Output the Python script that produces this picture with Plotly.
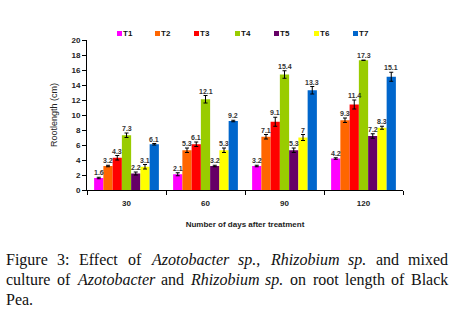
import plotly.graph_objects as go

categories = ["30", "60", "90", "120"]
series_names = ["T1", "T2", "T3", "T4", "T5", "T6", "T7"]
T1 = [1.6, 2.1, 3.2, 4.2]
T2 = [3.2, 5.3, 7.1, 9.3]
T3 = [4.3, 6.1, 9.1, 11.4]
T4 = [7.3, 12.1, 15.4, 17.3]
T5 = [2.2, 3.2, 5.3, 7.2]
T6 = [3.1, 5.3, 7.0, 8.3]
T7 = [6.1, 9.2, 13.3, 15.1]
E1 = [0.1, 0.2, 0.1, 0.1]
E2 = [0.1, 0.3, 0.3, 0.3]
E3 = [0.3, 0.3, 0.6, 0.6]
E4 = [0.3, 0.5, 0.5, 0.0]
E5 = [0.2, 0.1, 0.3, 0.3]
E6 = [0.3, 0.3, 0.4, 0.2]
E7 = [0.1, 0.1, 0.5, 0.6]
labels = [
    ["1.6", "2.1", "3.2", "4.2"],
    ["3.2", "5.3", "7.1", "9.3"],
    ["4.3", "6.1", "9.1", "11.4"],
    ["7.3", "12.1", "15.4", "17.3"],
    ["2.2", "3.2", "5.3", "7.2"],
    ["3.1", "5.3", "7", "8.3"],
    ["6.1", "9.2", "13.3", "15.1"],
]
values = [T1, T2, T3, T4, T5, T6, T7]
errors = [E1, E2, E3, E4, E5, E6, E7]
colors = ["#FF00FF", "#FF6600", "#FF0000", "#99CC00", "#660066", "#FFFF00", "#0066CC"]

W, H = 456, 319
ML, MR, MT, MB = 87, 53, 40, 129
PW = W - ML - MR
PH = H - MT - MB
BARGAP = 0.18


def px(x):
    return (x - ML) / PW


def py(y):
    return (H - MB - y) / PH


fig = go.Figure()
for name, v, e, c in zip(series_names, values, errors, colors):
    fig.add_trace(go.Bar(
        x=categories, y=v, name=name, marker=dict(color=c, line=dict(width=0)),
        error_y=dict(type="data", array=e, color="black", thickness=1, width=2),
        showlegend=False,
    ))

cat_w = PW / len(categories)
bar_w = cat_w * (1 - BARGAP) / len(series_names)
anns = []
shapes = []
for i, (lab, v, e) in enumerate(zip(labels, values, errors)):
    for j in range(len(categories)):
        anns.append(dict(
            x=j, y=v[j] + e[j], xref="x", yref="y", text=lab[j], showarrow=False,
            xanchor="center", yanchor="bottom", xshift=(i - 3) * bar_w, yshift=0,
            borderpad=0, font=dict(family="Liberation Sans", size=7, color="#333", weight="bold"),
        ))

# manual legend (small square swatches)
legend_x = [117, 155, 194, 235, 274, 314, 353]
for name, c, lx in zip(series_names, colors, legend_x):
    shapes.append(dict(type="rect", xref="paper", yref="paper", x0=px(lx), x1=px(lx + 5),
                       y0=py(36), y1=py(31), fillcolor=c, line=dict(width=0)))
    anns.append(dict(x=px(lx + 6), y=py(33.5), xref="paper", yref="paper", text=name,
                     showarrow=False, xanchor="left", yanchor="middle", borderpad=0, borderwidth=0,
                     font=dict(family="Liberation Sans", size=8, weight="bold", color="#111")))

# caption, justified using Times metrics (Liberation Serif is metric compatible)
ROMAN = {' ': 250, 'F': 556, 'i': 278, 'g': 500, 'u': 500, 'r': 333, 'e': 444, '3': 500, ':': 278,
         'E': 611, 'f': 333, 'c': 444, 't': 278, 'o': 500, 'a': 444, 'n': 500, 'd': 500, 'm': 778,
         'x': 500, 'l': 278, 'h': 500, 'B': 667, 'k': 500, 'P': 556, '.': 250, ',': 250, 's': 389,
         'p': 500, 'b': 500, 'z': 444, 'A': 722, 'R': 667}
ITALIC = {'A': 611, 'z': 389, 'o': 500, 't': 278, 'b': 500, 'a': 500, 'c': 444, 'e': 444, 'r': 389,
          ' ': 250, 's': 389, 'p': 500, '.': 250, 'R': 611, 'h': 500, 'i': 278, 'u': 500, 'm': 722}
CAP_SIZE = 16


def word_width(parts):
    w = 0
    for txt, it in parts:
        table = ITALIC if it else ROMAN
        w += sum(table.get(ch, 500) for ch in txt)
    return w * CAP_SIZE / 1000.0


def word_html(parts):
    return "".join(f"<i>{t}</i>" if it else t for t, it in parts)


caption_lines = [
    (259.5, True, [[("Figure", 0)], [("3:", 0)], [("Effect", 0)], [("of", 0)], [("Azotobacter", 1)],
                   [("sp.", 1), (",", 0)], [("Rhizobium", 1)], [("sp.", 1)], [("and", 0)], [("mixed", 0)]]),
    (279.5, True, [[("culture", 0)], [("of", 0)], [("Azotobacter", 1)], [("and", 0)], [("Rhizobium", 1)],
                   [("sp.", 1)], [("on", 0)], [("root", 0)], [("length", 0)], [("of", 0)], [("Black", 0)]]),
    (299, False, [[("Pea.", 0)]]),
]
LEFT, RIGHT = 6, 448.5
cap_font = dict(family="Liberation Serif", size=CAP_SIZE, color="#111")
for yy, justify, words in caption_lines:
    widths = [word_width(w) for w in words]
    if justify and len(words) > 1:
        gap = (RIGHT - LEFT - sum(widths)) / (len(words) - 1)
    else:
        gap = 0.25 * CAP_SIZE
    x = LEFT
    for w, wd in zip(words, widths):
        anns.append(dict(x=px(x), y=py(yy), xref="paper", yref="paper", text=word_html(w),
                         showarrow=False, xanchor="left", yanchor="middle", borderpad=0,
                         borderwidth=0, font=cap_font))
        x += wd + gap

fig.update_layout(
    annotations=anns, shapes=shapes,
    barmode="group", bargap=BARGAP, bargroupgap=0,
    width=W, height=H, margin=dict(l=ML, r=MR, t=MT, b=MB, pad=0, autoexpand=False),
    paper_bgcolor="white", plot_bgcolor="white",
    font=dict(family="Liberation Sans", color="black"),
    showlegend=False,
    xaxis=dict(type="category", range=[-0.5, len(categories) - 0.5], autorange=False,
               showline=True, linecolor="black", linewidth=1, ticks="outside",
               tickson="boundaries", ticklen=4, tickcolor="black", ticklabelstandoff=5,
               tickfont=dict(size=8, weight="bold", color="#222"),
               title=dict(text="Number of days after treatment", standoff=14,
                          font=dict(size=8, weight="bold", color="#222"))),
    yaxis=dict(range=[0, 20], autorange=False, dtick=2, showline=True, linecolor="black", linewidth=1,
               ticks="outside", ticklen=4, tickcolor="black", showgrid=False, zeroline=False,
               tickfont=dict(size=8, weight="bold", color="#222"),
               title=dict(text="Rootlength (cm)", standoff=12,
                          font=dict(size=9, color="#222"))),
)

fig.write_html("out.html", config={"displayModeBar": False},
               post_script="document.body.style.margin='0px';document.body.style.padding='0px';")
